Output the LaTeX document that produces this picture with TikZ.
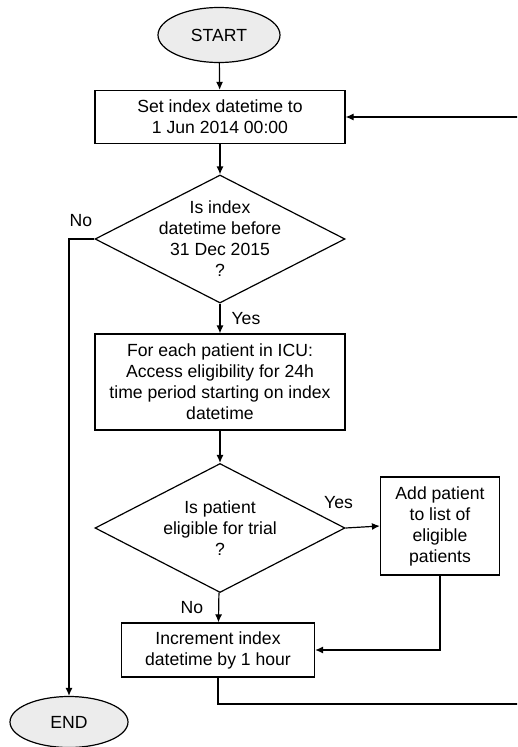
\documentclass[tikz,border=0pt]{standalone}
\usepackage{fontspec}
\setmainfont{Liberation Sans}
\usetikzlibrary{positioning,shapes.geometric,arrows.meta}
\tikzset{terminal node/.style={ellipse,draw,fill=gray!15,minimum width=122pt,minimum height=55pt,inner sep=0pt},
	process node/.style={rectangle,draw,align=center,inner sep=0pt,minimum width=250pt},
	decision node/.style={diamond,draw,minimum width=250pt,minimum height=128pt,inner sep=0pt},
	flow/.style={-{Latex[length=8pt,width=7pt]}},
	tag/.style={inner sep=2pt},
}

\begin{document}
\begin{tikzpicture}[x=1pt,y=-1pt,line width=1.2pt,font=\fontsize{17.6}{21}\selectfont]
	\clip (0,0) rectangle (517,747);
	\useasboundingbox (0,0) rectangle (517,747);
	\node[terminal node] (start) at (219,35) {START};
	\node[process node,minimum height=53pt] (set) at (220,117) {Set index datetime to\\1 Jun 2014 00:00};
	\node[decision node,label={[align=center]center:Is index\\datetime before\\31 Dec 2015\\?}] (period) at (220,239) {};
	\node[process node,minimum height=96pt] (assess) at (220,382) {For each patient in ICU:\\Access eligibility for 24h\\time period starting on index\\datetime};
	\node[decision node,minimum height=129pt,label={[align=center]center:Is patient\\eligible for trial\\?}] (eligible) at (220,528) {};
	\node[process node,minimum width=119pt,minimum height=98pt] (add) at (440,526) {Add patient\\to list of\\eligible\\patients};
	\node[process node,minimum width=193pt,minimum height=54pt] (increment) at (218,650) {Increment index\\datetime by 1 hour};
	\node[terminal node,minimum width=118pt,minimum height=51pt] (end) at (69,722) {END};
	\coordinate (loop) at (530,704);
	
	\path[draw,flow]
	(start) edge (set)
	(set) edge (period)
	(period) edge node[tag,right=9pt] {Yes} (assess)
	(assess) edge (eligible)
	(eligible) edge node[tag,left=13pt] {No} (increment);
	\draw[flow] (eligible.east) -- node[tag,pos=0,above=17pt,xshift=-7pt] {Yes} (add.west);
	\draw[flow] (period.west) -| node[tag,pos=0.5,anchor=south west,inner xsep=0pt,yshift=10pt] {No} (end.north);
	\draw[flow] (add.south) |- (increment.east);
	\draw[flow] (increment.south) |- (loop) |- (set.east);
\end{tikzpicture}
\end{document}
